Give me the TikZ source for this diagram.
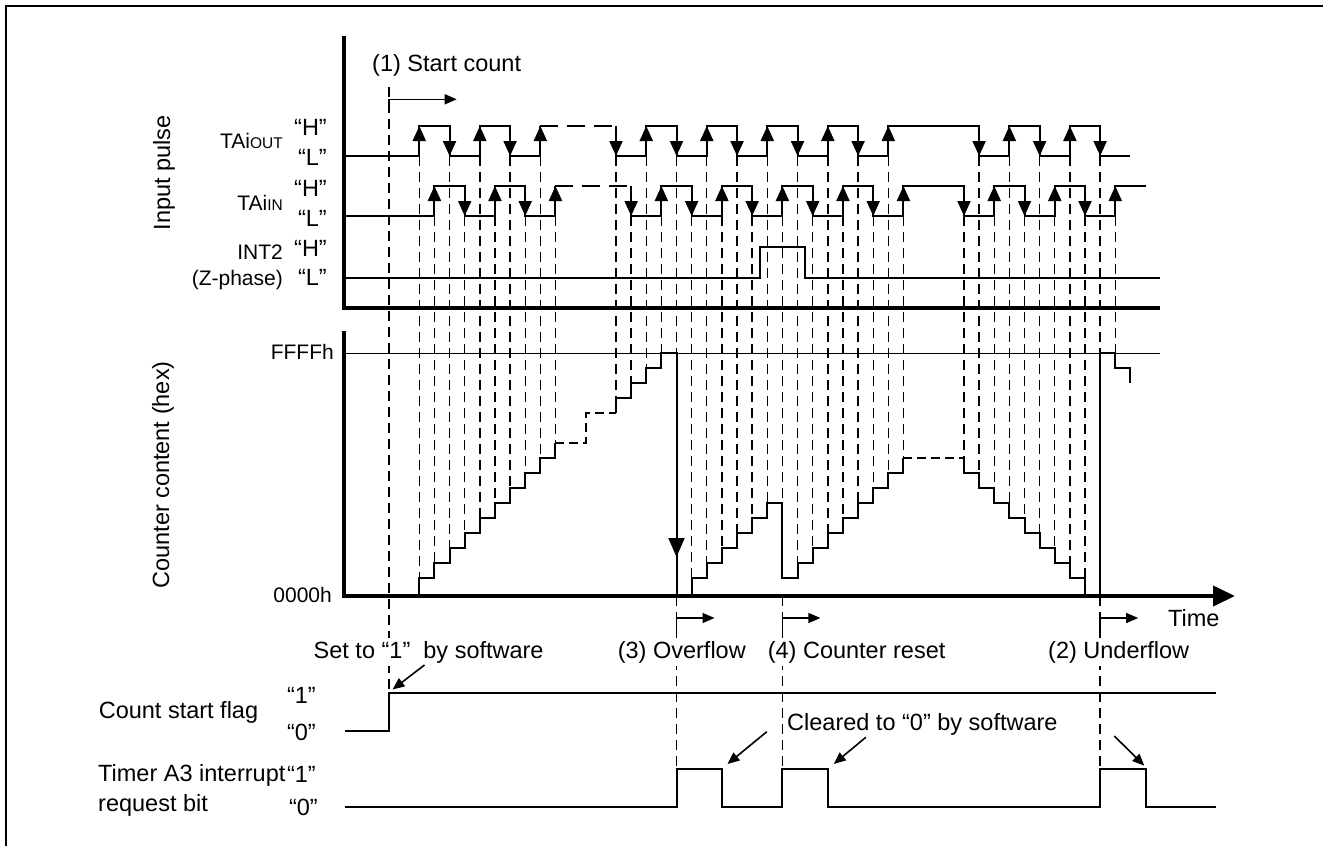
\documentclass[tikz,border=0pt]{standalone}
\usepackage{fontspec}
\setmainfont{Liberation Sans}
\usetikzlibrary{arrows.meta}

% x of edge number #1, y of counter level #1
\newcommand{\tk}[1]{419.3+15.13*(#1)}
\newcommand{\cn}[1]{593.3-15*(#1)}

\tikzset{
  sig/.style={line width=2pt},
  axisln/.style={line width=4pt},
  guide/.style={line width=1.4pt, dash pattern=on 10pt off 6pt},
  gapln/.style={line width=2pt, dash pattern=on 18pt off 9pt},
  cgap/.style={line width=2pt, dash pattern=on 9pt off 5pt},
  edgetip/.style={line width=2pt, -{Triangle[length=15pt,width=13pt]}},
  note/.style={line width=1.6pt, -{Triangle[length=12pt,width=10pt]}},
  lbl/.style={inner sep=0pt, font=\fontsize{23.5}{28}\selectfont},
  signame/.style={inner sep=0pt, font=\fontsize{21}{25}\selectfont},
  eventlbl/.style={lbl, fill=white, inner xsep=0pt, inner ysep=3pt},
}

\begin{document}
\begin{tikzpicture}[x=1pt,y=-1pt]
\useasboundingbox (0,0) rectangle (1323,846);
% frame (top and left edges only)
\draw[line width=1.5pt] (6,846) -- (6,6) -- (1323,6);

% dashed lines from each edge down to the counter
\foreach \k/\s/\n in {0/156/1, 1/216/2, 2/156/3, 3/216/4, 4/156/5, 5/216/6,
    6/156/7, 7/216/8, 8/156/9, 9/216/10, 13/156/13, 14/216/14, 15/156/15,
    16/216/16, 17/156/16, 18/216/1, 19/156/2, 20/216/3, 21/156/4, 22/216/5,
    23/156/6, 24/216/6, 25/156/2, 26/216/3, 27/156/4, 28/216/5, 29/156/6,
    30/216/7, 31/156/8, 32/216/9, 36/216/9, 37/156/8, 38/216/7, 39/156/6,
    40/216/5, 41/156/4, 42/216/3, 43/156/2, 44/216/1, 45/156/16, 46/216/16}
  \draw[guide] ({\tk{\k}},\s) -- ({\tk{\k}},{\cn{\n}});

% event lines
\coordinate (go) at (389,87);
\coordinate (goflag) at (389,693.3);
\draw[guide] (go) -- (goflag);
\foreach \k in {17,24,45}
  \draw[guide] ({\tk{\k}},596) -- ({\tk{\k}},769);

% input pulse panel
\draw[axisln] (344,36) -- (344,308) -- (1160,308);

% TAiOUT
\draw[sig] (344,156) -| ({\tk{0}},126) -| ({\tk{2}},156) -| ({\tk{4}},126)
  -| ({\tk{6}},156) -| ({\tk{8}},126);
\draw[gapln] ({\tk{8}},126) -- ({\tk{13}},126);
\draw[sig] ({\tk{13}},126) -- ({\tk{13}},156) -| ({\tk{15}},126) -| ({\tk{17}},156)
  -| ({\tk{19}},126) -| ({\tk{21}},156) -| ({\tk{23}},126) -| ({\tk{25}},156)
  -| ({\tk{27}},126) -| ({\tk{29}},156) -| ({\tk{31}},126) -| ({\tk{37}},156)
  -| ({\tk{39}},126) -| ({\tk{41}},156) -| ({\tk{43}},126) -| ({\tk{45}},156)
  -- ({\tk{47}},156);
\foreach \k in {0,4,8,15,19,23,27,31,39,43}
  \draw[edgetip] ({\tk{\k}},150) -- ({\tk{\k}},126);
\foreach \k in {2,6,13,17,21,25,29,37,41,45}
  \draw[edgetip] ({\tk{\k}},132) -- ({\tk{\k}},156);

% TAiIN
\draw[sig] (344,216) -| ({\tk{1}},186) -| ({\tk{3}},216) -| ({\tk{5}},186)
  -| ({\tk{7}},216) -| ({\tk{9}},186);
\draw[gapln] ({\tk{9}},186) -- ({\tk{14}},186);
\draw[sig] ({\tk{14}},186) -- ({\tk{14}},216) -| ({\tk{16}},186) -| ({\tk{18}},216)
  -| ({\tk{20}},186) -| ({\tk{22}},216) -| ({\tk{24}},186) -| ({\tk{26}},216)
  -| ({\tk{28}},186) -| ({\tk{30}},216) -| ({\tk{32}},186) -| ({\tk{36}},216)
  -| ({\tk{38}},186) -| ({\tk{40}},216) -| ({\tk{42}},186) -| ({\tk{44}},216)
  -| ({\tk{46}},186) -- ({\tk{48}},186);
\foreach \k in {1,5,9,16,20,24,28,32,38,42,46}
  \draw[edgetip] ({\tk{\k}},210) -- ({\tk{\k}},186);
\foreach \k in {3,7,14,18,22,26,30,36,40,44}
  \draw[edgetip] ({\tk{\k}},192) -- ({\tk{\k}},216);

% INT2
\draw[sig] (344,278) -| ({\tk{22.5}},247) -| ({\tk{25.5}},278) -- (1160,278);

% counter panel
\draw[axisln, -{Triangle[length=22pt,width=20pt]}] (344,331) -- (344,596) -- (1235,596);
\draw[line width=1.2pt] (344,{\cn{16}}) -- (1160,{\cn{16}});

\draw[sig] ({\tk{0}},596) -- ({\tk{0}},{\cn{1}})
  foreach \k in {1,...,9} { -| ({\tk{\k}},{\cn{\k+1}}) };
\draw[cgap] ({\tk{9}},{\cn{10}}) -| ({\tk{11}},{\cn{12}}) -- ({\tk{13}},{\cn{12}});
\draw[sig] ({\tk{13}},{\cn{12}}) -- ({\tk{13}},{\cn{13}})
  foreach \k in {14,15,16} { -| ({\tk{\k}},{\cn{\k}}) }
  -- ({\tk{17}},{\cn{16}}) -- ({\tk{17}},596)
  foreach \k in {18,...,23} { -| ({\tk{\k}},{\cn{\k-17}}) }
  -| ({\tk{24}},{\cn{1}})
  foreach \k in {25,...,32} { -| ({\tk{\k}},{\cn{\k-23}}) };
\draw[cgap] ({\tk{32}},{\cn{9}}) -- ({\tk{36}},{\cn{9}});
\draw[sig] ({\tk{36}},{\cn{9}}) -- ({\tk{36}},{\cn{8}})
  foreach \k in {37,...,43} { -| ({\tk{\k}},{\cn{44-\k}}) }
  -| ({\tk{44}},596) -| ({\tk{45}},{\cn{16}}) -| ({\tk{46}},{\cn{15}})
  -| ({\tk{47}},{\cn{14}});
% overflow arrow
\draw[line width=2pt, -{Triangle[length=19pt,width=16pt]}] ({\tk{17}},530) -- ({\tk{17}},557);

% time markers
\draw[note] (389,108) -- (389,99.3) -- (456.7,99.3);
\foreach \k in {17,24,45}
  \draw[note] ({\tk{\k}},628) -- ({\tk{\k}},618) -- ({\tk{\k}+38},618);

% count start flag
\draw[sig] (345,731) -| (goflag) -- (1216,693.3);
% timer A3 interrupt request bit
\draw[sig] (345,806.7) -| ({\tk{17}},769) -| ({\tk{20}},806.7) -| ({\tk{24}},769)
  -| ({\tk{27}},806.7) -| ({\tk{45}},769) -| ({\tk{48}},806.7) -- (1216,806.7);

% labels
\node[lbl, rotate=90] (inpulse) at (164,173) {Input pulse};
\node[lbl, rotate=90] (cntlbl) at (163,475) {Counter content (hex)};

\node[signame, anchor=base east] (outlbl) at (283,148) {TAi{\fontsize{15.5}{18}\selectfont OUT}};
\node[signame, anchor=base east] (inlbl) at (283,210) {TAi{\fontsize{15.5}{18}\selectfont IN}};
\node[signame, anchor=base east] (intlbl) at (283,259.3) {INT2};
\node[signame, anchor=base east] (zlbl) at (283,285) {(Z-phase)};
\node[lbl, anchor=base east] (outH) at (327,135) {“H”};
\node[lbl, anchor=base east] (outL) at (327,165) {“L”};
\node[lbl, anchor=base east] (inH) at (327,196.7) {“H”};
\node[lbl, anchor=base east] (inL) at (327,226.7) {“L”};
\node[lbl, anchor=base east] (intH) at (327,256.7) {“H”};
\node[lbl, anchor=base east] (intL) at (327,285) {“L”};

\node[signame, anchor=base east] (ffff) at (334,359.5) {FFFFh};
\node[signame, anchor=base east] (zero) at (332,602.5) {0000h};

\node[lbl, anchor=base west] (startlbl) at (372,71) {(1) Start count};
\node[eventlbl, anchor=base west] (setlbl) at (313.5,658.3) {Set to “1”\ \ by software};
\node[eventlbl, anchor=base east] (ovflbl) at (746,658.3) {(3) Overflow};
\node[eventlbl, anchor=base west] (rstlbl) at (767.6,658.3) {(4) Counter reset};
\node[eventlbl, anchor=base west] (unflbl) at (1048,658.3) {(2) Underflow};
\node[lbl, anchor=base west] (timelbl) at (1168,626.7) {Time};
\node[eventlbl, anchor=base west] (clrlbl) at (787,730) {Cleared to “0” by software};

\node[lbl, anchor=base west] (flaglbl) at (98.6,718.3) {Count start flag};
\node[lbl, anchor=base east] (flag1) at (316,703) {“1”};
\node[lbl, anchor=base east] (flag0) at (316,740) {“0”};
\node[lbl, anchor=base west] (irlbl) at (98,781.7) {Timer A3 interrupt};
\node[lbl, anchor=base west] (irlbl2) at (98,811.7) {request bit};
\node[lbl, anchor=base east] (ir1) at (316,782) {“1”};
\node[lbl, anchor=base east] (ir0) at (318,815) {“0”};

% software arrows
\coordinate (setfrom) at (424.5,665);
\draw[note] (setfrom) -- (392.5,689.5);
\coordinate (clrA) at (766.8,731.7);
\coordinate (clrB) at (865.8,737.3);
\coordinate (clrC) at (1114.3,736);
\coordinate (fallA) at (727.5,764);
\coordinate (fallB) at (833.7,764);
\coordinate (fallC) at (1144.3,765.7);
\draw[note] (clrA) -- (fallA);
\draw[note] (clrB) -- (fallB);
\draw[note] (clrC) -- (fallC);
\end{tikzpicture}
\end{document}
